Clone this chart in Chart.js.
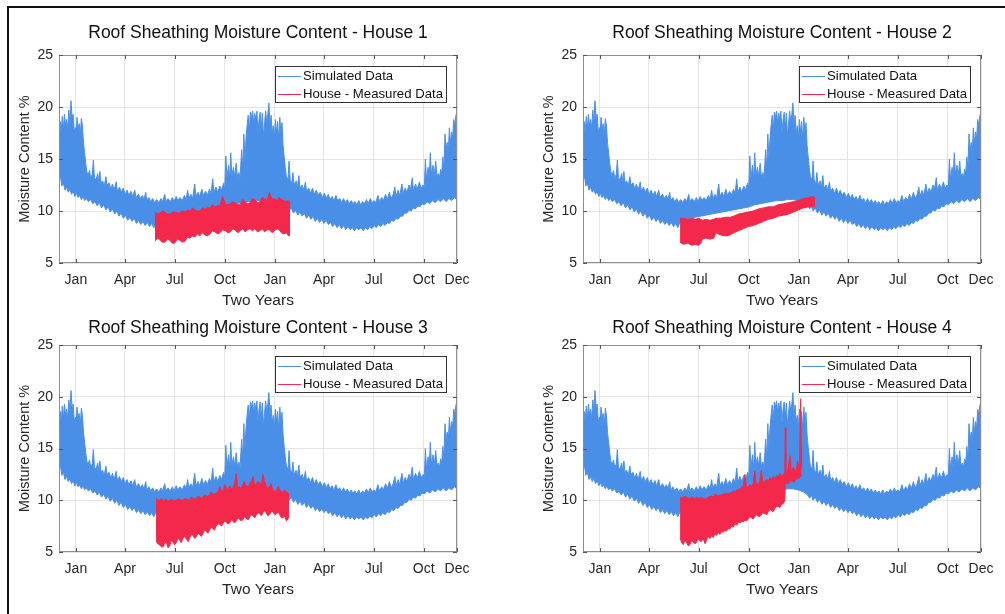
<!DOCTYPE html>
<html>
<head>
<meta charset="utf-8">
<script src="https://cdn.jsdelivr.net/npm/chart.js@4.4.1/dist/chart.umd.min.js"></script>
<style>
  html, body { margin: 0; padding: 0; background: #fff; }
  #page { position: relative; width: 1005px; height: 614px; overflow: hidden; background: #fff; }
  #frame { position: absolute; left: 7px; top: 6px; right: 0; bottom: 0;
           border-top: 2px solid #111; border-left: 2px solid #111; }
  canvas { position: absolute; }
</style>
</head>
<body>
<div id="page">
  <div id="frame"></div>
  <canvas id="house1" width="500" height="305" style="left:0;top:0"></canvas>
  <canvas id="house2" width="505" height="305" style="left:500px;top:0"></canvas>
  <canvas id="house3" width="500" height="309" style="left:0;top:305px"></canvas>
  <canvas id="house4" width="505" height="309" style="left:500px;top:305px"></canvas>
</div>
<script>
// x axis: days counted from 1 Dec, two years
const tickDays = [31, 121, 212, 304, 396, 486, 577, 669, 730]
const tickLabels = ["Jan", "Apr", "Jul", "Oct", "Jan", "Apr", "Jul", "Oct", "Dec"]
const yTicks = [5, 10, 15, 20, 25]
const seriesNames = ["Simulated Data", "House - Measured Data"]

// simulated moisture content: top edge of the band (read off the spikes)
const simHighDays = [0, 2, 4, 6, 8, 10, 12, 14, 16, 18, 20, 22, 24, 26, 28, 30, 31, 33, 35, 37, 39, 41, 43, 45, 47, 49, 51,
  53, 56, 58, 61, 63, 65, 68, 71, 73, 75, 77, 80, 83, 86, 88, 92, 95, 98, 101, 105, 107, 111, 114, 118, 121, 125, 128, 132, 135, 139, 141, 146, 149, 153, 156, 159, 161, 165, 168, 172, 175,
  179, 183, 187, 190, 194, 196, 200, 204, 208, 211, 215, 218, 222, 226, 230, 233, 236, 238, 242, 245, 249, 251, 255, 258, 262, 265, 269, 272, 276, 279, 282, 284, 288, 291, 295, 298, 302, 304,
  306, 308, 311, 313, 315, 317, 320, 322, 325, 327, 330, 332, 335, 337, 339, 341, 343,
  345, 347, 349, 351, 353, 355, 357, 359, 361, 363, 365, 367, 369, 371, 373, 375, 377, 379, 381, 383, 385, 387, 389, 391, 393, 395, 397, 399, 401, 403, 405, 407, 409, 411, 413, 415,
  417, 420, 422, 424, 427, 429, 431, 435, 437, 440, 442, 446, 449, 452, 454, 458, 461, 465, 468, 472, 475, 479,
  483, 487, 490, 494, 497, 501, 504, 508, 511, 515, 518, 522, 525, 529, 532, 536, 539, 543, 546, 550, 553, 557, 560, 564, 567, 571, 574, 578, 581, 585, 588, 592, 595, 599, 602, 606, 609,
  613, 616, 618, 622, 625, 629, 631, 635, 638, 642, 644, 648, 650, 654, 657, 661, 664, 668,
  670, 672, 674, 677, 679, 681, 683, 686, 688, 691, 693, 696, 698, 700, 702, 704, 706, 708, 710, 712, 714, 716, 718, 720, 722, 724, 726, 728, 730]
const simHigh = [17.0, 18.6, 17.6, 19.1, 17.9, 19.3, 18.2, 18.8, 17.9, 19.7, 18.6, 20.6, 18.9, 19.3, 17.6, 18.0, 16.8, 19.0, 17.9, 18.4, 17.2, 18.9, 18.2, 16.5, 15.6, 14.6, 13.8,
  13.4, 13.9, 13.2, 13.5, 14.9, 13.2, 13.0, 13.6, 12.8, 13.8, 12.7, 12.9, 12.4, 13.3, 12.5, 12.7, 12.1, 12.6, 12.0, 12.8, 11.9, 12.3, 11.8, 12.2, 11.6, 12.0, 11.5, 11.9, 11.4, 12.0, 11.3, 11.6, 11.2, 11.5, 11.1, 11.8, 11.0, 11.3, 10.9, 11.2, 10.8,
  11.1, 10.8, 11.2, 10.9, 11.6, 10.9, 11.2, 10.9, 11.3, 10.9, 11.4, 11.0, 11.3, 11.0, 11.5, 11.1, 12.0, 11.2, 11.6, 11.2, 12.6, 11.4, 11.8, 11.4, 12.1, 11.5, 11.9, 11.5, 12.1, 11.7, 13.1, 11.8, 12.3, 11.8, 12.4, 12.0, 12.7, 12.1,
  15.3, 13.2, 14.4, 13.0, 15.6, 13.4, 14.2, 13.3, 14.6, 13.3, 13.7, 13.1, 15.9, 14.0, 17.4, 15.0, 17.0,
  18.2, 19.2, 17.8, 19.5, 19.0, 19.6, 18.5, 19.4, 18.8, 19.6, 17.5, 18.8, 19.5, 18.0, 19.4, 17.2, 18.4, 19.6, 18.6, 19.3, 20.4, 18.3, 19.2, 17.5, 18.2, 16.9, 18.8, 17.5, 18.6, 16.8, 19.0, 17.5, 18.5, 16.3, 15.2, 14.2,
  13.3, 13.0, 14.8, 13.0, 12.6, 13.7, 12.5, 12.9, 12.2, 13.4, 12.2, 12.5, 12.0, 12.8, 11.9, 12.2, 11.7, 12.2, 11.6, 12.0, 11.5, 11.8,
  11.3, 11.7, 11.2, 11.6, 11.1, 11.4, 11.0, 11.5, 11.0, 11.2, 10.8, 11.2, 10.8, 11.1, 10.7, 11.0, 10.7, 10.9, 10.6, 11.0, 10.6, 10.9, 10.7, 11.1, 10.7, 11.2, 10.8, 11.0, 10.8, 11.5, 10.9, 11.3, 11.0, 11.6, 11.1, 11.8, 11.2,
  11.6, 12.3, 11.4, 12.0, 11.5, 12.6, 11.7, 12.2, 11.8, 12.5, 11.9, 13.2, 12.0, 12.6, 12.1, 12.8, 12.2, 12.5,
  12.2, 15.0, 13.0, 14.2, 13.1, 15.6, 13.5, 14.4, 13.3, 14.8, 13.4, 13.6, 13.2, 14.0, 13.6, 15.2, 14.0, 17.4, 15.8, 16.6, 15.6, 18.0, 16.5, 17.6, 17.0, 18.8, 18.2, 19.2, 19.5]

// simulated moisture content: bottom edge of the band
const simLowDays = [0, 3, 5, 8, 11, 14, 17, 20, 23, 26, 29, 32, 35, 38, 41, 44, 47, 50, 54, 58, 62, 66, 70, 74, 78, 82, 86, 90, 94, 98, 102, 106, 110, 114, 118, 122, 126, 130, 134, 138, 142, 146, 150, 154, 158, 162, 166, 170, 174,
  178, 185, 195, 205, 215, 225, 235, 245, 255, 265, 275, 285, 295, 305, 315, 325, 335, 345, 355, 365, 375, 385, 395, 405, 412,
  416, 419, 422, 426, 430, 434, 438, 442, 446, 450, 454, 458, 462, 466, 470, 474, 478, 482, 486, 490, 494, 498, 502, 506, 510, 514, 518, 522, 526, 530, 534, 538, 542, 546, 550, 554, 558, 562, 566, 570,
  574, 578, 582, 586, 590, 594, 598, 602, 606, 610, 614, 618, 622, 626, 630, 634, 638, 642, 646, 650, 654, 658, 662, 666, 670, 675, 680, 685, 690, 695, 700, 705, 710, 715, 720, 725, 730]
const simLow = [12.9, 13.3, 12.4, 12.7, 12.0, 12.3, 11.8, 12.1, 11.6, 11.9, 11.4, 11.7, 11.3, 11.5, 11.1, 11.4, 11.0, 11.2, 10.9, 11.1, 10.7, 10.9, 10.5, 10.8, 10.3, 10.6, 10.1, 10.4, 9.9, 10.2, 9.7, 10.0, 9.5, 9.8, 9.3, 9.6, 9.1, 9.4, 9.0, 9.3, 8.8, 9.1, 8.7, 9.0, 8.6, 8.9, 8.5, 8.8, 8.4,
  8.9, 9.1, 9.3, 9.4, 9.5, 9.6, 9.7, 9.8, 9.9, 10.0, 10.1, 10.2, 10.3, 10.4, 10.6, 10.7, 10.8, 10.9, 11.0, 11.0, 11.1, 11.1, 11.0, 10.8, 10.5,
  10.2, 10.5, 10.0, 10.3, 9.8, 10.1, 9.6, 9.9, 9.5, 9.8, 9.3, 9.6, 9.2, 9.5, 9.0, 9.3, 8.9, 9.2, 8.8, 9.1, 8.7, 8.9, 8.5, 8.8, 8.4, 8.7, 8.3, 8.6, 8.2, 8.5, 8.2, 8.4, 8.1, 8.4, 8.2, 8.4, 8.1, 8.4, 8.2, 8.5,
  8.3, 8.6, 8.4, 8.7, 8.5, 8.8, 8.6, 8.9, 8.8, 9.1, 9.0, 9.3, 9.2, 9.5, 9.5, 9.8, 9.8, 10.1, 10.0, 10.3, 10.2, 10.5, 10.4, 10.7, 10.6, 10.9, 10.7, 11.0, 10.8, 11.1, 10.9, 11.2, 10.9, 11.2, 11.0, 11.3, 11.1]

// measured moisture content per house: days, top edge, bottom edge
const house1Days = [176, 181, 185, 190, 194, 199, 203, 208, 212, 217, 221, 226, 231, 236, 240, 245, 249, 254, 258, 263, 268, 272, 277, 281, 286, 291, 295, 300, 305, 310,
  314, 319, 323, 328, 332, 337, 341, 346, 350, 355, 359, 364, 368, 373, 377, 382, 386, 391, 395, 400, 404, 408, 412, 417, 421, 424]
const house1High = [9.9, 9.7, 9.8, 10.0, 9.9, 9.7, 9.7, 9.9, 9.9, 9.8, 9.8, 10.0, 9.9, 10.1, 10.0, 10.3, 10.1, 10.0, 10.0, 10.3, 10.2, 10.3, 10.3, 10.6, 10.4, 10.5, 10.5, 11.4, 10.7, 10.6,
  10.7, 10.9, 10.8, 10.6, 10.6, 11.1, 10.9, 10.7, 10.8, 11.2, 11.1, 10.8, 10.9, 11.3, 11.2, 11.0, 11.8, 11.1, 11.2, 11.0, 11.3, 11.1, 11.0, 10.9, 11.0, 10.6]
const house1Low = [7.1, 7.4, 7.2, 7.0, 7.0, 7.3, 7.2, 6.9, 6.9, 7.3, 7.2, 7.0, 7.1, 7.5, 7.4, 7.6, 7.5, 7.8, 7.6, 7.9, 7.7, 7.6, 7.8, 8.1, 8.0, 7.8, 7.9, 8.2, 8.1, 7.9,
  8.0, 8.3, 8.2, 7.9, 8.1, 8.3, 8.0, 8.2, 8.3, 8.1, 8.3, 8.0, 8.1, 8.3, 8.0, 8.2, 8.2, 7.9, 8.1, 8.3, 8.2, 7.9, 7.8, 7.9, 7.6, 7.7]

const house2Days = [178, 184, 192, 200, 206, 212, 216, 219, 225, 233, 240, 244, 252, 262, 270, 276, 285, 294, 303, 312, 322, 331, 340, 349, 358, 368, 377, 386, 395, 404, 414, 423, 426]
const house2High = [9.3, 9.3, 9.2, 9.3, 9.2, 9.3, 9.2, 9.1, 9.2, 9.1, 9.2, 9.3, 9.3, 9.4, 9.4, 9.5, 9.7, 9.8, 9.9, 10.0, 10.2, 10.3, 10.4, 10.4, 10.6, 10.7, 10.8, 10.9, 11.0, 11.2, 11.3, 11.4, 11.2]
const house2Low = [7.0, 6.8, 6.9, 6.7, 6.8, 6.7, 6.9, 7.3, 7.4, 7.3, 7.4, 7.9, 7.7, 7.6, 7.7, 7.9, 8.1, 8.3, 8.5, 8.6, 8.8, 9.0, 9.2, 9.3, 9.5, 9.6, 9.7, 9.9, 10.1, 10.3, 10.4, 10.4, 10.5]

const house3Days = [178, 181, 184, 188, 191, 194, 197, 200, 203, 206, 209, 212, 215, 218, 221, 224, 227, 231, 234, 237, 240, 243, 246, 249, 252, 255, 258, 261, 264, 267, 270, 273, 276, 279, 282, 285, 288, 292,
  295, 298, 301, 304, 307, 310, 313, 316, 319, 322, 325, 328, 331, 334, 337, 340, 343, 347, 350, 353, 356, 359, 362, 365, 368, 371, 374, 377, 380, 383, 386, 389, 392, 396, 399, 402, 405, 408, 411, 414, 417, 420, 422]
const house3High = [10.2, 10.0, 10.0, 10.1, 10.0, 10.0, 10.1, 9.9, 10.0, 10.1, 10.0, 10.0, 10.0, 10.1, 10.1, 10.0, 10.0, 10.2, 10.1, 10.0, 10.1, 10.3, 10.2, 10.1, 10.2, 10.4, 10.3, 10.2, 10.3, 10.5, 10.4, 10.4, 10.5, 10.8, 10.6, 10.6, 10.7, 10.8,
  11.3, 10.9, 10.9, 11.5, 11.2, 11.0, 11.4, 11.1, 11.2, 11.6, 12.6, 11.2, 11.3, 11.1, 11.5, 11.8, 11.4, 11.3, 11.6, 11.9, 12.3, 11.4, 11.6, 11.8, 11.7, 11.5, 12.5, 11.8, 11.4, 11.2, 11.3, 11.6, 11.0, 10.9, 10.9, 11.3, 11.0, 10.8, 10.8, 11.0, 10.8, 10.7, 10.6]
const house3Low = [6.1, 5.8, 5.7, 5.5, 5.5, 5.9, 5.9, 5.4, 5.6, 6.1, 6.0, 5.7, 5.9, 6.3, 6.2, 5.9, 6.3, 6.5, 6.2, 6.0, 6.4, 6.7, 6.6, 6.3, 6.5, 6.8, 6.7, 6.5, 6.8, 7.1, 7.0, 6.8, 7.1, 7.4, 7.3, 7.1, 7.5, 7.7,
  7.7, 7.5, 7.8, 8.0, 7.9, 7.7, 7.8, 8.1, 8.0, 7.8, 8.0, 8.3, 8.2, 8.0, 8.1, 8.4, 8.3, 8.1, 8.4, 8.6, 8.5, 8.3, 8.6, 8.8, 8.7, 8.5, 8.8, 9.0, 8.8, 8.5, 8.6, 8.9, 8.9, 8.6, 8.7, 8.9, 8.6, 8.3, 8.3, 8.5, 8.0, 8.2, 8.4]

const house4Days = [178, 181, 184, 187, 190, 193, 196, 199, 202, 205, 208, 211, 214, 217, 220, 224, 227, 230, 233, 236, 239, 242, 245, 248, 251, 254, 257, 260, 263, 266, 269, 272, 275, 279, 282, 285, 288, 291, 294, 297, 300,
  303, 306, 309, 312, 315, 318, 321, 324, 327, 330, 334, 337, 340, 343, 346, 349, 352, 355, 358, 361, 364, 368, 370, 371, 372, 376, 380, 382, 386, 390, 394, 397, 399, 401]
const house4High = [10.3, 10.2, 10.3, 10.4, 10.3, 10.2, 10.2, 10.3, 10.3, 10.1, 10.3, 10.2, 10.2, 10.3, 10.2, 10.1, 10.2, 10.3, 10.4, 10.4, 10.3, 10.6, 10.5, 10.4, 10.5, 10.5, 10.6, 10.6, 10.7, 10.6, 10.7, 10.7, 10.9, 10.8, 11.0, 11.0, 11.1, 11.2, 11.4, 12.5, 11.2,
  11.3, 11.5, 11.3, 11.6, 12.8, 11.5, 11.6, 11.8, 12.9, 11.7, 11.8, 12.0, 11.9, 12.2, 12.0, 12.3, 12.1, 12.4, 12.3, 12.6, 12.4, 12.5, 12.2, 17.0, 12.4, 13.0, 14.3, 12.6, 13.2, 12.7, 13.8, 12.8, 19.8, 13.2]
const house4Low = [6.4, 5.9, 5.7, 6.2, 5.9, 5.6, 5.7, 6.1, 6.0, 5.8, 5.9, 6.3, 6.1, 6.0, 6.3, 5.8, 6.2, 6.5, 6.3, 6.6, 6.4, 6.8, 6.6, 6.9, 6.7, 7.0, 6.9, 7.1, 7.0, 7.3, 7.2, 7.5, 7.4, 7.7, 7.6, 7.9, 7.8, 8.0, 7.9, 8.1, 8.0,
  8.2, 8.4, 8.3, 8.2, 8.4, 8.6, 8.5, 8.4, 8.6, 8.8, 8.7, 8.6, 8.9, 9.1, 9.0, 8.9, 9.2, 9.4, 9.4, 9.3, 9.6, 9.7, 10.0, 11.6, 11.7, 11.6, 11.8, 11.9, 11.7, 12.0, 12.1, 12.2, 12.3, 12.4]

const BLUE = "#4a8fe7"
const RED = "#f3284b"
const FONT = "'Liberation Sans', Arial, sans-serif"
const INK = "#262626"

const toPoints = (xs, ys) => xs.map((x, i) => ({ x: x, y: ys[i] }))

// MATLAB-like extras: title, axis titles, box with inward ticks, legend
const panelDecor = {
  id: "panelDecor",
  afterDatasetsDraw(chart, args, opts) {
    const { ctx, chartArea: a, scales } = chart
    const cx = (a.left + a.right) / 2
    ctx.save()

    // axes box and inward tick marks
    ctx.strokeStyle = "#8e8e8e"
    ctx.lineWidth = 1
    ctx.strokeRect(Math.round(a.left) + 0.5, Math.round(a.top) + 0.5, Math.round(a.right - a.left) - 1, Math.round(a.bottom - a.top) - 1)
    ctx.strokeStyle = "#555"
    ctx.beginPath()
    tickDays.forEach(d => {
      const x = Math.round(scales.x.getPixelForValue(d)) + 0.5
      ctx.moveTo(x, a.top); ctx.lineTo(x, a.top + 4)
      ctx.moveTo(x, a.bottom); ctx.lineTo(x, a.bottom - 4)
    })
    yTicks.forEach(v => {
      const y = Math.round(scales.y.getPixelForValue(v)) + 0.5
      ctx.moveTo(a.left, y); ctx.lineTo(a.left + 4, y)
      ctx.moveTo(a.right, y); ctx.lineTo(a.right - 4, y)
    })
    ctx.stroke()

    // titles
    ctx.fillStyle = "#111"
    ctx.textAlign = "center"
    ctx.textBaseline = "middle"
    ctx.font = "17.5px " + FONT
    ctx.fillText(opts.title, cx, a.top - opts.titleGap)
    ctx.fillStyle = INK
    ctx.font = "15.5px " + FONT
    ctx.fillText("Two Years", cx, a.bottom + 38)
    ctx.font = "14.5px " + FONT
    ctx.translate(a.left - 34, (a.top + a.bottom) / 2)
    ctx.rotate(-Math.PI / 2)
    ctx.fillText("Moisture Content %", 0, 0)
    ctx.setTransform(1, 0, 0, 1, 0, 0)

    // legend box
    const bx = a.right - 182, by = a.top + 11, bw = 171, bh = 36
    ctx.fillStyle = "#fff"
    ctx.fillRect(bx, by, bw, bh)
    ctx.strokeStyle = "#333"
    ctx.strokeRect(Math.round(bx) + 0.5, Math.round(by) + 0.5, bw, bh)
    ctx.font = "13.2px " + FONT
    ctx.textAlign = "left"
    ctx.fillStyle = "#111";
    [BLUE, RED].forEach((c, i) => {
      const ly = Math.round(by + 10 + i * 17.7) + 0.5
      ctx.strokeStyle = c
      ctx.beginPath()
      ctx.moveTo(bx + 3, ly); ctx.lineTo(bx + 26, ly)
      ctx.stroke()
      ctx.fillText(seriesNames[i], bx + 28, ly)
    })
    ctx.restore()
  }
}

function drawHouse(id, title, days, high, low, box) {
  new Chart(document.getElementById(id), {
    type: "line",
    data: {
      datasets: [
        { data: toPoints(simHighDays, simHigh), borderColor: BLUE, backgroundColor: BLUE, fill: "+1", order: 2 },
        { data: toPoints(simLowDays, simLow), borderColor: BLUE, fill: false, order: 2 },
        { data: toPoints(days, high), borderColor: RED, backgroundColor: RED, fill: "+1", order: 1 },
        { data: toPoints(days, low), borderColor: RED, fill: false, order: 1 }
      ]
    },
    options: {
      responsive: false,
      animation: false,
      events: [],
      elements: {
        point: { radius: 0 },
        line: { tension: 0, borderWidth: 1 }
      },
      layout: { padding: { left: 0, top: box.top, right: box.right, bottom: box.bottom } },
      plugins: {
        legend: { display: false },
        tooltip: { enabled: false },
        panelDecor: { title: title, titleGap: box.titleGap }
      },
      scales: {
        x: {
          type: "linear",
          min: 0,
          max: 730,
          afterBuildTicks: (s) => { s.ticks = tickDays.map(v => ({ value: v })) },
          afterFit: (s) => { s.height = 42 },
          ticks: {
            autoSkip: false,
            maxRotation: 0,
            padding: 9,
            color: INK,
            font: { family: FONT, size: 14 },
            callback: (v, i) => tickLabels[i]
          },
          grid: { color: "#e4e4e4", drawTicks: false },
          border: { display: false }
        },
        y: {
          min: 5,
          max: 25,
          afterBuildTicks: (s) => { s.ticks = yTicks.map(v => ({ value: v })) },
          afterFit: (s) => { s.width = box.left },
          ticks: {
            padding: 6,
            color: INK,
            font: { family: FONT, size: 14 }
          },
          grid: { color: "#e4e4e4", drawTicks: false },
          border: { display: false }
        }
      }
    },
    plugins: [panelDecor]
  })
}

drawHouse("house1", "Roof Sheathing Moisture Content - House 1", house1Days, house1High, house1Low,
  { left: 59, top: 55, right: 43, bottom: 0, titleGap: 21.7 })
drawHouse("house2", "Roof Sheathing Moisture Content - House 2", house2Days, house2High, house2Low,
  { left: 83, top: 55, right: 24, bottom: 0, titleGap: 21.7 })
drawHouse("house3", "Roof Sheathing Moisture Content - House 3", house3Days, house3High, house3Low,
  { left: 59, top: 40, right: 43, bottom: 20, titleGap: 17.3 })
drawHouse("house4", "Roof Sheathing Moisture Content - House 4", house4Days, house4High, house4Low,
  { left: 83, top: 40, right: 24, bottom: 20, titleGap: 17.3 })
</script>
</body>
</html>
